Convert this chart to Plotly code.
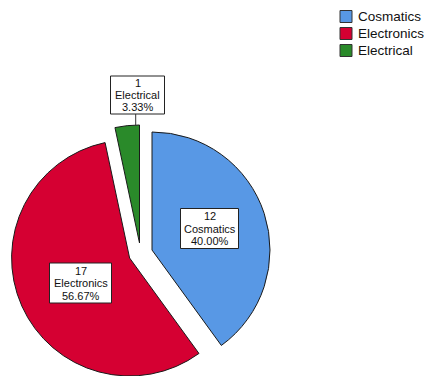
import plotly.graph_objects as go

# ---- data -------------------------------------------------------------
categories = ["Cosmatics", "Electronics", "Electrical"]
counts = [12, 17, 1]

# ---- style / layout ---------------------------------------------------
colors = ["#5898E5", "#D50032", "#2A8A2A"]
FONT = "Liberation Sans, Arial, sans-serif"
W, H = 424, 376
R = 118                      # pie radius, px
# centre of each exploded slice (px from top-left)
apex_x = [152, 129.6, 139.5]
apex_y = [250, 258, 243]
# label boxes (centre and size, px)
box_cx = [209.5, 80.5, 137.5]
box_cy = [228.5, 283, 95]
box_w = [58, 62, 54]
box_h = [40, 40, 38]
LINE_GAP = 12.5
# legend
leg_x, leg_y0, leg_step = 340, 16.5, 17


def px(x):
    return x / W


def py(y):
    return 1 - y / H


total = sum(counts)
percents = [100 * c / total for c in counts]

fig = go.Figure()

# one pie per slice so that each slice can be exploded on its own
for i, name in enumerate(categories):
    n = len(categories)
    fill = [colors[j] if j == i else "rgba(0,0,0,0)" for j in range(n)]
    lcol = ["#1a1a1a" if j == i else "rgba(0,0,0,0)" for j in range(n)]
    lw = [1 if j == i else 0 for j in range(n)]
    fig.add_trace(go.Pie(
        labels=categories,
        values=counts,
        sort=False,
        direction="clockwise",
        rotation=0,
        marker=dict(colors=fill, line=dict(color=lcol, width=lw)),
        textinfo="none",
        hoverinfo=["label+value+percent" if j == i else "none" for j in range(n)],
        showlegend=False,
        domain=dict(
            x=[px(apex_x[i] - R), px(apex_x[i] + R)],
            y=[max(0.0, py(apex_y[i] + R)), min(1.0, py(apex_y[i] - R))],
        ),
    ))

shapes = []
annotations = []

# value labels in boxes
for i, name in enumerate(categories):
    cx, cy, w, h = box_cx[i], box_cy[i], box_w[i], box_h[i]
    shapes.append(dict(
        type="rect", xref="paper", yref="paper",
        x0=px(cx - w / 2), x1=px(cx + w / 2),
        y0=py(cy + h / 2), y1=py(cy - h / 2),
        line=dict(color="#222222", width=1), fillcolor="white",
    ))
    lines = [str(counts[i]), name, f"{percents[i]:.2f}%"]
    for k, txt in enumerate(lines):
        annotations.append(dict(
            xref="paper", yref="paper",
            x=px(cx), y=py(cy + (k - 1) * LINE_GAP),
            text=txt, showarrow=False,
            xanchor="center", yanchor="middle",
            borderpad=0,
            font=dict(family=FONT, size=11, color="#111111"),
        ))

# leader line for the small slice label
shapes.append(dict(
    type="line", xref="paper", yref="paper",
    x0=px(135.7), x1=px(135.7),
    y0=py(box_cy[2] + box_h[2] / 2), y1=py(125.5),
    line=dict(color="#333333", width=1),
))

# legend
for i, name in enumerate(categories):
    yc = leg_y0 + i * leg_step
    shapes.append(dict(
        type="rect", xref="paper", yref="paper",
        x0=px(leg_x), x1=px(leg_x + 12),
        y0=py(yc + 6), y1=py(yc - 6),
        line=dict(color="#333333", width=1), fillcolor=colors[i],
    ))
    annotations.append(dict(
        xref="paper", yref="paper",
        x=px(leg_x + 16), y=py(yc),
        text=name, showarrow=False,
        xanchor="left", yanchor="middle",
        font=dict(family=FONT, size=13.5, color="#111111"),
    ))

fig.update_layout(
    width=W, height=H,
    margin=dict(l=0, r=0, t=0, b=0),
    paper_bgcolor="white",
    plot_bgcolor="white",
    shapes=shapes,
    annotations=annotations,
    font=dict(family=FONT),
)

fig.write_html("out.html")
